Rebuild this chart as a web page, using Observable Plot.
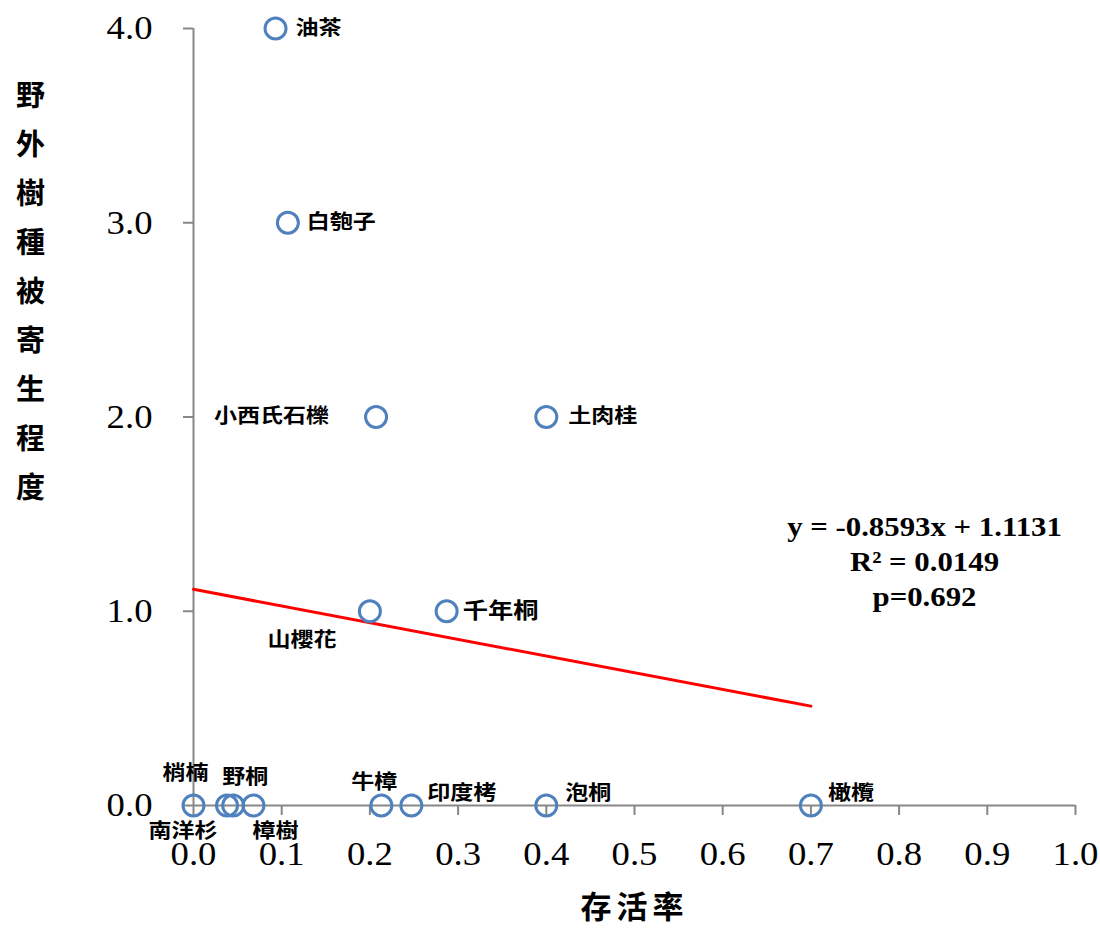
<!DOCTYPE html>
<html>
<head>
<meta charset="utf-8">
<script src="https://cdn.jsdelivr.net/npm/d3@7"></script>
<script src="https://cdn.jsdelivr.net/npm/@observablehq/plot@0.6"></script>
<style>
  html, body { margin: 0; padding: 0; background: white; }
  #chart { width: 1100px; height: 932px; }
</style>
</head>
<body>
<div id="chart"></div>
<script>
// ---- data ----
const names = ["油茶","白匏子","小西氏石櫟","土肉桂","山櫻花","千年桐","梢楠","南洋杉","野桐","樟樹","牛樟","印度栲","泡桐","橄欖"];
const survival = [0.093, 0.107, 0.207, 0.400, 0.200, 0.287, 0.000, 0.038, 0.045, 0.068, 0.213, 0.247, 0.400, 0.700];
const parasitism = [4, 3, 2, 2, 1, 1, 0, 0, 0, 0, 0, 0, 0, 0];
const xTicks = [0, 0.1, 0.2, 0.3, 0.4, 0.5, 0.6, 0.7, 0.8, 0.9, 1.0];
const yTicks = [0, 1, 2, 3, 4];
const slope = -0.8593, intercept = 1.1131;
const trendXs = [0, 0.7];
const equationLines = ["y = -0.8593x + 1.1131", "R² = 0.0149", "p=0.692"];
const xTitle = "存活率";
const yTitle = "野外樹種被寄生程度";

// label placement (anchor, dx, dy, fontSize) per point
const labelPlacement = [
  ["start", 20, 0, 20], ["start", 19, 0, 20], ["end", -47, 0, 20], ["start", 22, 0, 20],
  ["middle", -68, 29, 20], ["start", 16, 0, 22], ["middle", -8, -32, 20], ["middle", -44, 26, 20],
  ["middle", 12, -28, 20], ["middle", 22, 26, 20], ["middle", -7, -23, 20], ["start", 16, -12, 20],
  ["start", 19, -12, 20], ["start", 17, -12, 20]
];

const pts = names.map((n, i) => ({name: n, x: survival[i], y: parasitism[i]}));
const trend = trendXs.map(x => ({x, y: intercept + slope * x}));
const eqData = equationLines.map((t, i) => ({t, i}));

const cjk = '"Noto Sans CJK TC", "Noto Sans CJK SC", sans-serif';
const serif = '"Liberation Serif", "Times New Roman", serif';
const axisColor = "#878787";

const labelMarks = pts.map((p, i) => {
  const [anchor, dx, dy, fs] = labelPlacement[i];
  return Plot.text([p], {
    x: "x", y: "y", text: "name", textAnchor: anchor, dx, dy,
    fontSize: fs, fontWeight: "bold", fontFamily: cjk, fill: "black",
    className: "cjk-label"
  });
});

const chart = Plot.plot({
  width: 1100,
  height: 932,
  marginLeft: 193,
  marginRight: 25,
  marginTop: 28,
  marginBottom: 127,
  style: {fontFamily: serif, background: "white", color: "black"},
  x: {domain: [0, 1], ticks: xTicks},
  y: {domain: [0, 4], ticks: yTicks},
  marks: [
    Plot.ruleY([0], {stroke: axisColor, strokeWidth: 2}),
    Plot.ruleX([0], {stroke: axisColor, strokeWidth: 2}),
    Plot.axisX({ticks: xTicks, tickFormat: d3.format(".1f"), tickSize: 10, tickPadding: 25, stroke: axisColor, strokeWidth: 2, fontSize: 34, fontFamily: serif, fill: "black", label: null, className: "latin"}),
    Plot.axisY({ticks: yTicks, tickFormat: d3.format(".1f"), tickSize: 10, tickPadding: 31, stroke: axisColor, strokeWidth: 2, fontSize: 34, fontFamily: serif, fill: "black", label: null, className: "latin"}),
    Plot.line(trend, {x: "x", y: "y", stroke: "#FF0000", strokeWidth: 3}),
    Plot.dot(pts, {x: "x", y: "y", r: 10.5, stroke: "#4F81BD", strokeWidth: 3, fill: "none"}),
    ...labelMarks,
    ...eqData.map(d => Plot.text([d], {
      frameAnchor: "top-left", dx: 731, dy: 499 + d.i * 35 - 11, text: "t",
      fontSize: 28, fontWeight: "bold", fontFamily: serif, textAnchor: "middle", fill: "black", className: "latin-eq"
    })),
    Plot.text([xTitle], {frameAnchor: "bottom", dy: 112, text: d => d, fontSize: 31, fontWeight: "bold", fontFamily: cjk, fill: "black", className: "xtitle"}),
    Plot.text([yTitle.split("").join("\n")], {frameAnchor: "left", dx: -163, dy: -131, textAnchor: "middle", text: d => d, lineHeight: 1.69, fontSize: 29, fontWeight: "bold", fontFamily: cjk, fill: "black"})
  ]
});

document.getElementById("chart").appendChild(chart);

// horizontal stretch of text, like the reference rendering
function stretch(sel, factor) {
  d3.select(chart).selectAll(sel).each(function() {
    const len = this.getComputedTextLength();
    if (len > 0) {
      this.setAttribute("textLength", (len * factor).toFixed(1));
      this.setAttribute("lengthAdjust", "spacingAndGlyphs");
    }
  });
}
stretch(".latin text", 1.08);
stretch(".latin-eq text", 1.1);
stretch(".cjk-label text", 1.15);
d3.select(chart).selectAll(".xtitle text").attr("letter-spacing", "5px");
</script>
</body>
</html>
